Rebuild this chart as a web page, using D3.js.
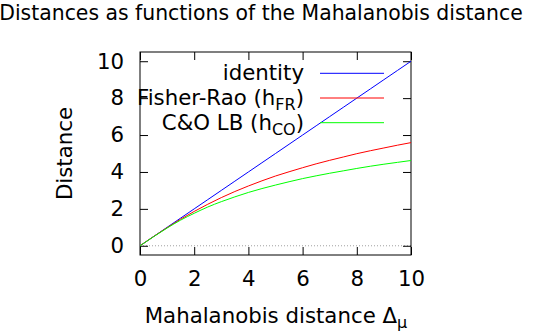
<!DOCTYPE html>
<html>
<head>
<meta charset="utf-8">
<style>
  body {margin: 0; background: #fff; font-family: "DejaVu Sans";}
  svg text {fill: #000;}
</style>
<script src="https://d3js.org/d3.v7.min.js"></script>
</head>
<body>
<div id="chart"></div>
<script>

// values
const deltas = [0, 0.5, 1, 1.5, 2, 2.5, 3, 3.5, 4, 4.5, 5, 5.5, 6, 6.5, 7, 7.5, 8, 8.5, 9, 9.5, 10]
const identity = [0, 0.5, 1, 1.5, 2, 2.5, 3, 3.5, 4, 4.5, 5, 5.5, 6, 6.5, 7, 7.5, 8, 8.5, 9, 9.5, 10]
const fisherRao = [0, 0.50, 0.98, 1.44, 1.86, 2.25, 2.61, 2.94, 3.24, 3.52, 3.78, 4.01, 4.23, 4.44, 4.63, 4.81, 4.99, 5.15, 5.30, 5.45, 5.59]
const coLB = [0, 0.49, 0.96, 1.39, 1.76, 2.10, 2.39, 2.65, 2.89, 3.10, 3.29, 3.47, 3.64, 3.79, 3.93, 4.06, 4.19, 4.31, 4.42, 4.52, 4.62]

const xTicks = [0, 2, 4, 6, 8, 10]
const yTicks = [0, 2, 4, 6, 8, 10]

const width = 550, height = 333
const margin = {top: 52, right: 139, bottom: 78, left: 140}
const fontSize = '21.3px'

const svg = d3.select('#chart').append('svg')
  .attr('width', width)
  .attr('height', height)

const x = d3.scaleLinear().domain([0, 10]).range([margin.left, width - margin.right])
const y = d3.scaleLinear().domain([-0.5, 10.5]).range([height - margin.bottom, margin.top])

const tickLen = 8

// zero line (dotted)
svg.append('line')
  .attr('x1', x(0)).attr('x2', x(10))
  .attr('y1', y(0)).attr('y2', y(0))
  .attr('stroke', '#a0a0a0')
  .attr('stroke-width', 1)
  .attr('stroke-dasharray', '1,2')

// axes with inward ticks on all four sides
const fmt = d3.format('d')
svg.append('g')
  .attr('transform', 'translate(0,' + y(-0.5) + ')')
  .call(d3.axisBottom(x).tickValues(xTicks).tickFormat(fmt).tickSizeInner(-tickLen).tickSizeOuter(0).tickPadding(16))
svg.append('g')
  .attr('transform', 'translate(0,' + y(10.5) + ')')
  .call(d3.axisTop(x).tickValues(xTicks).tickFormat('').tickSizeInner(-tickLen).tickSizeOuter(0))
svg.append('g')
  .attr('transform', 'translate(' + x(0) + ',0)')
  .call(d3.axisLeft(y).tickValues(yTicks).tickFormat(fmt).tickSizeInner(-tickLen).tickSizeOuter(0).tickPadding(16))
svg.append('g')
  .attr('transform', 'translate(' + x(10) + ',0)')
  .call(d3.axisRight(y).tickValues(yTicks).tickFormat('').tickSizeInner(-tickLen).tickSizeOuter(0))

svg.selectAll('.tick text')
  .style('font-family', 'DejaVu Sans')
  .style('font-size', fontSize)
svg.selectAll('.domain').remove()

// frame
svg.append('rect')
  .attr('x', x(0)).attr('y', y(10.5))
  .attr('width', x(10) - x(0))
  .attr('height', y(-0.5) - y(10.5))
  .attr('fill', 'none')
  .attr('stroke', '#000')
  .attr('stroke-width', 1)

const series = [
  {name: 'identity', sub: '', values: identity, color: '#0000ff'},
  {name: 'Fisher-Rao (h', sub: 'FR', values: fisherRao, color: '#ff0000'},
  {name: 'C&O LB (h', sub: 'CO', values: coLB, color: '#00ff00'}
]

const line = d3.line()
  .x((d, i) => x(deltas[i]))
  .y(d => y(d))
  .curve(d3.curveMonotoneX)

svg.append('g').selectAll('path')
  .data(series)
  .enter().append('path')
  .attr('d', d => line(d.values))
  .attr('fill', 'none')
  .attr('stroke', d => d.color)
  .attr('stroke-width', 1)

// legend
const legend = svg.append('g').selectAll('g')
  .data(series)
  .enter().append('g')
  .attr('transform', (d, i) => 'translate(0,' + (73.3 + i * 24.7) + ')')

legend.append('line')
  .attr('x1', 320).attr('x2', 384)
  .attr('y1', 0).attr('y2', 0)
  .attr('stroke', d => d.color)
  .attr('stroke-width', 1)

const ltext = legend.append('text')
  .attr('x', 304)
  .attr('y', 7)
  .attr('text-anchor', 'end')
  .style('font-size', fontSize)
ltext.append('tspan').text(d => d.name)
ltext.filter(d => d.sub).append('tspan')
  .attr('dy', 5)
  .style('font-size', '16px')
  .text(d => d.sub)
ltext.filter(d => d.sub).append('tspan')
  .attr('dy', -5)
  .text(')')

// titles
svg.append('text')
  .attr('x', 261).attr('y', 20)
  .attr('text-anchor', 'middle')
  .style('font-size', '20.4px')
  .text('Distances as functions of the Mahalanobis distance')

svg.append('text')
  .attr('transform', 'translate(72,' + y(5) + ') rotate(-90)')
  .attr('text-anchor', 'middle')
  .style('font-size', fontSize)
  .text('Distance')

const xl = svg.append('text')
  .attr('x', 276).attr('y', 323)
  .attr('text-anchor', 'middle')
  .style('font-size', fontSize)
xl.append('tspan').text('Mahalanobis distance \u0394')
xl.append('tspan').attr('dy', 5).style('font-size', '16px').text('\u03bc')

</script>
</body>
</html>
